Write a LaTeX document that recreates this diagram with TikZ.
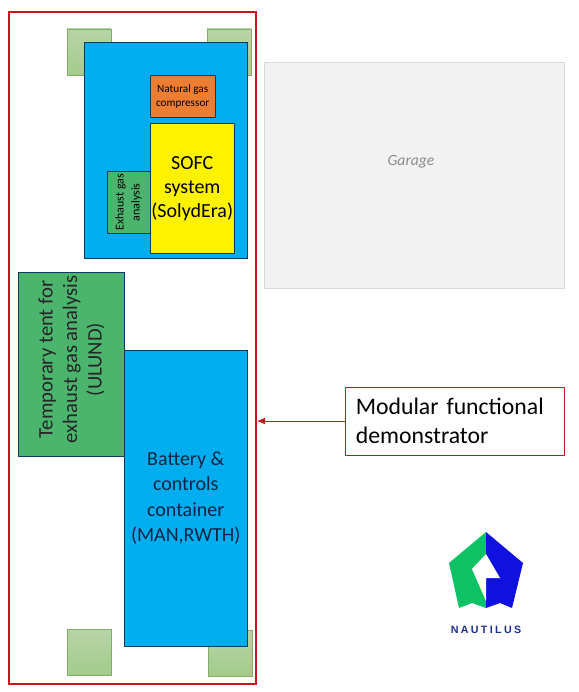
\documentclass[tikz,border=0pt]{standalone}
\usepackage{fontspec}
\setmainfont{Carlito}
\newfontfamily\logofont[LetterSpace=22]{Liberation Sans}
\usetikzlibrary{arrows.meta,positioning,calc}
\definecolor{ink}{HTML}{0B3C5D}
\definecolor{navy}{HTML}{0A2647}
\definecolor{cyanbox}{HTML}{00AEEF}
\definecolor{redline}{HTML}{C8141E}
\definecolor{leaf}{HTML}{4BB56E}
\definecolor{rust}{HTML}{ED7D31}
\definecolor{padtop}{HTML}{B7D4A8}
\definecolor{padbot}{HTML}{A3CC8A}
\definecolor{padedge}{HTML}{7FAE68}
\definecolor{logogreen}{HTML}{0CC265}
\definecolor{logoblue}{HTML}{1010E0}
\definecolor{logotext}{HTML}{1C2E8C}
\tikzset{
  every node/.style={outer sep=0pt},
  box/.style={draw=ink,line width=.6pt,inner sep=0pt,align=center,anchor=north west},
  pad/.style={draw=padedge,line width=.7pt,top color=padtop,bottom color=padbot,inner sep=0pt,anchor=north west,minimum width=33pt,minimum height=34.5pt},
}
\begin{document}
\begin{tikzpicture}[x=.75pt,y=-.75pt]
  \useasboundingbox (0,0) rectangle (578,692);
  % stands
  \node[pad] (padtl) at (67,29) {};
  \node[pad] (padtr) at (207,29) {};
  \node[pad] (padbl) at (67,629) {};
  \node[pad] (padbr) at (208,630) {};
  % SOFC container
  \node[box,fill=cyanbox,minimum width=122.6pt,minimum height=162.5pt] (sofcbox) at (84,42) {};
  \node[box,fill=rust,minimum width=49pt,minimum height=32pt,font=\fontsize{8.4}{10.5}\selectfont] (comp) at (150,75) {Natural gas\\compressor};
  \node[box,fill=leaf,minimum width=47pt,minimum height=32.25pt,rotate=90,anchor=north east,font=\fontsize{9}{12}\selectfont] (exh) at (107,171) {Exhaust gas\\analysis};
  \node[box,fill=yellow,minimum width=63.4pt,minimum height=98pt,font=\fontsize{15}{18}\selectfont] (sofc) at (150,123) {SOFC\\system\\(SolydEra)};
  % tent and battery
  \node[box,fill=leaf,minimum width=138pt,minimum height=79.8pt,rotate=90,anchor=north east] (tent) at (18,272) {};
  \node[rotate=90,inner sep=0pt,align=center,text=black!85,font=\fontsize{15.5}{18.4}\selectfont] (tenttext) at (71.5,359.5) {Temporary tent for\\exhaust gas analysis\\(ULUND)};
  \node[box,fill=cyanbox,text=navy,minimum width=92.6pt,minimum height=222pt,font=\fontsize{15}{19}\selectfont] (batt) at (124,350) {Battery \&\\controls\\container\\(MAN,RWTH)};
  % outline
  \node[draw=redline,line width=1.5pt,inner sep=0pt,anchor=north west,minimum width=185.25pt,minimum height=504pt] (frame) at (9,12) {};
  % garage
  \node[draw=black!15,fill=black!5,inner sep=0pt,anchor=north west,minimum width=225pt,minimum height=169.5pt] (garage) at (264,62) {};
  \node[inner sep=0pt,text=black!45,font=\fontsize{11.7}{14}\selectfont\itshape] (garagetext) at (411,162) {Garage};
  % callout
  \node[draw=redline,line width=.6pt,inner sep=0pt,anchor=north west,minimum width=164.25pt,minimum height=51pt,font=\fontsize{17.8}{22}\selectfont,align=left,text width=148pt] (demo) at (345,387) {Modular functional\\demonstrator};
  \draw[-{Latex[length=6pt,width=5pt]},redline,line width=.6pt,shorten >=.75pt] (demo.west) -- (demo.west -| frame.east);
  % logo
  \fill[logogreen] (486,532) -- (449,563) -- (459,608) -- (472,603) -- (486,608) -- cycle;
  \fill[logoblue] (486,532) -- (523,563) -- (512,608) -- (500,603) -- (486,608) -- cycle;
  \fill[white] (486,554) -- (472,569) -- (486,601) -- (486,578) -- (500,578) -- cycle;
  \node[text=logotext,inner sep=0pt,font=\logofont\bfseries\fontsize{8}{9}\selectfont] (logo) at (486,630) {NAUTILUS};
\end{tikzpicture}
\end{document}
